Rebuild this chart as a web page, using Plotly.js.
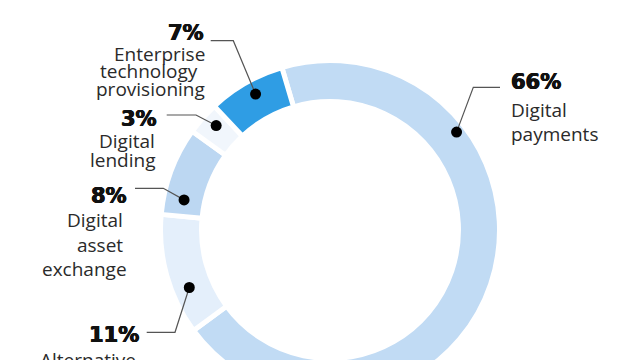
<!DOCTYPE html>
<html>
<head>
<meta charset="utf-8">
<script src="https://cdn.plot.ly/plotly-3.0.1.min.js"></script>
<style>
html, body { margin: 0; padding: 0; overflow: hidden; background: #ffffff; }
#chart { width: 640px; height: 440px; }
</style>
</head>
<body>
<div id="chart"></div>
<script>
// ---- data ----
const categories = ['Digital payments', 'Alternative', 'Digital asset exchange', 'Digital lending', 'Enterprise technology provisioning'];
const shares = [66, 11, 8, 3, 7];
const nameLines = [
  ['Digital', 'payments'],
  ['Alternative'],
  ['Digital', 'asset', 'exchange'],
  ['Digital', 'lending'],
  ['Enterprise', 'technology', 'provisioning']
];

// ---- style ----
const sliceColors = ['#c1dbf4', '#e4effb', '#bcd7f2', '#f1f6fc', '#2f9de4'];
const W = 640, H = 440;
const CX = 330, CY = 230, R = 169.5, HOLE = 0.758, GAP = 5;
const ROTATION = -16.5;
// callout layout per slice (pixel positions)
const callouts = [
  {side: 'left',  x: 511,   pctBase: 88.3,  lineX: [510.5, 510.5], lines: [116, 139.3], lead: [500, 473.3], leadY: 87.3, frac: 0.275, r: 160},
  {side: 'right', x: 139,   pctBase: 341.7, lineX: [136], lines: [366], lead: [146.7, 175], leadY: 332.3, frac: 0.34, r: 152},
  {side: 'right', x: 127,   pctBase: 202.7, lineX: [123, 123, 127], lines: [225.7, 250.7, 275], lead: [135, 163.3], leadY: 188.3, frac: 0.21, r: 149},
  {side: 'right', x: 157,   pctBase: 125.7, lineX: [154.5, 156], lines: [146.7, 165.7], lead: [166.7, 196], leadY: 115, frac: 0.61, r: 154.5},
  {side: 'right', x: 204,   pctBase: 39.3,  lineX: [204.5, 198, 204.5], lines: [59.3, 76.7, 95], lead: [210.7, 233.3], leadY: 40.7, frac: 0.54, r: 155}
];
const pctFont = {family: 'DejaVu Sans', size: 21, color: '#111111', weight: 700,
                 shadow: '0.5px 0 0 #111111, -0.5px 0 0 #111111, 0 0.4px 0 #111111'};
const txtFont = {family: 'Open Sans', size: 19, color: '#2a2a2a'};

const px = x => x / W;
const py = y => 1 - y / H;

// slice angles (clockwise from 12 o'clock) derived from data
const total = shares.reduce((a, b) => a + b, 0);
let start = ROTATION;
const dots = shares.map((v, i) => {
  const span = v / total * 360;
  const a = (start + callouts[i].frac * span) * Math.PI / 180;
  start += span;
  return [CX + callouts[i].r * Math.sin(a), CY - callouts[i].r * Math.cos(a)];
});

const shapes = [];
const annotations = [];
shares.forEach((v, i) => {
  const c = callouts[i];
  const [dx, dy] = dots[i];
  shapes.push({
    type: 'path', xref: 'paper', yref: 'paper', layer: 'above',
    path: `M${px(c.lead[0])},${py(c.leadY)} L${px(c.lead[1])},${py(c.leadY)} L${px(dx)},${py(dy)}`,
    line: {color: '#555555', width: 1.2}
  });
  const dr = 5.5;
  shapes.push({
    type: 'circle', xref: 'paper', yref: 'paper', layer: 'above',
    x0: px(dx - dr), x1: px(dx + dr), y0: py(dy + dr), y1: py(dy - dr),
    fillcolor: '#000000', line: {width: 0}
  });
  const xanchor = c.side === 'left' ? 'left' : 'right';
  annotations.push({
    xref: 'paper', yref: 'paper', x: px(c.x), y: py(c.pctBase - 0.3 * pctFont.size),
    xanchor: xanchor, yanchor: 'middle', showarrow: false, borderpad: 0, borderwidth: 0,
    text: '<b>' + v + '%</b>', font: pctFont
  });
  nameLines[i].forEach((t, k) => {
    annotations.push({
      xref: 'paper', yref: 'paper', x: px(c.lineX[k]), y: py(c.lines[k] - 0.3 * txtFont.size),
      xanchor: xanchor, yanchor: 'middle', showarrow: false, borderpad: 0, borderwidth: 0,
      text: t, font: txtFont
    });
  });
});

const trace = {
  type: 'pie',
  labels: categories,
  values: shares,
  sort: false,
  direction: 'clockwise',
  rotation: ROTATION,
  hole: HOLE,
  textinfo: 'none',
  hoverinfo: 'skip',
  marker: {colors: sliceColors, line: {color: '#ffffff', width: GAP}},
  domain: {x: [px(CX - R), px(CX + R)], y: [py(CY + R), py(CY - R)]}
};

Plotly.newPlot('chart', [trace], {
  width: W, height: H,
  margin: {l: 0, r: 0, t: 0, b: 0},
  paper_bgcolor: '#ffffff',
  showlegend: false,
  shapes: shapes,
  annotations: annotations
}, {staticPlot: true});
</script>
</body>
</html>
